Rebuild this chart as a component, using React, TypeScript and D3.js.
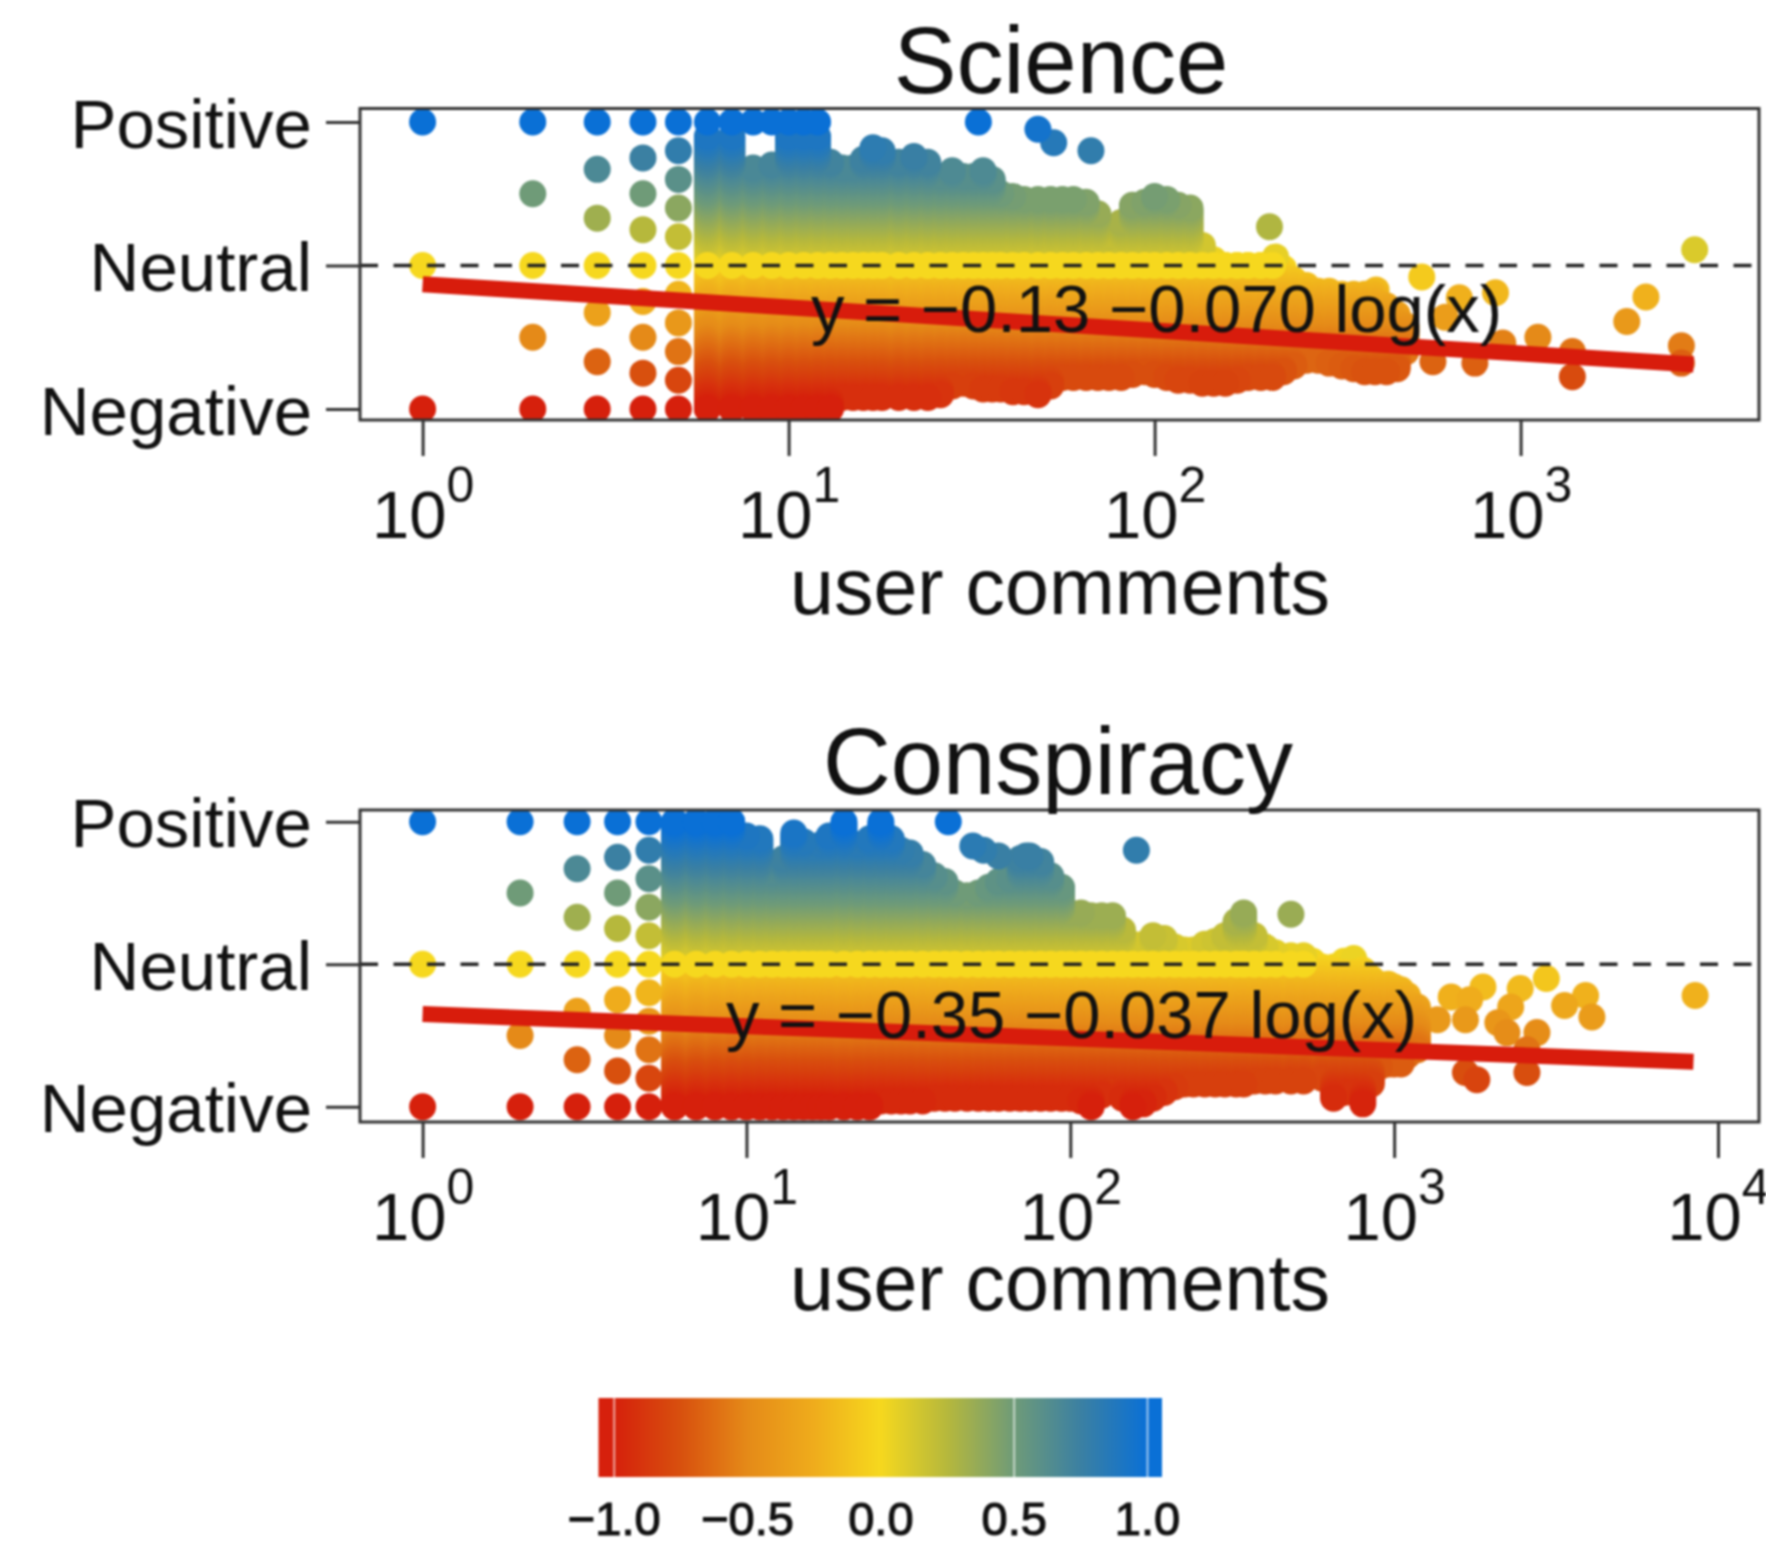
import React, { useEffect, useRef } from 'react';
import * as d3 from 'd3';

// sentiment levels seen at the low comment counts
const lowCounts = [1, 2, 3, 4, 5];
const lowCountLevels = [
  [-1, 0, 1],
  [-1, -0.5, 0, 0.5, 1],
  [-1, -0.67, -0.33, 0, 0.33, 0.67, 1],
  [-1, -0.75, -0.5, -0.25, 0, 0.25, 0.5, 0.75, 1],
  [-1, -0.8, -0.6, -0.4, -0.2, 0, 0.2, 0.4, 0.6, 0.8, 1],
];

const denseLevels = d3.range(-50, 51).map((i) => i / 50);

// Science: the dense part of the cloud, one column per comment count
const sciCounts = [6, 7, 8, 9, 10, 11, 12, 13, 14, 15, 16, 17, 18, 20, 22, 24, 26, 28, 30, 32, 34, 36, 38, 41, 44, 48, 52, 56, 60, 65, 70, 75, 81, 87, 94, 100, 108, 116, 125, 135, 145, 156, 168, 180, 195, 210, 225, 240, 260, 280, 300, 325, 350, 375, 400, 430, 460, 486];
const sciTop = [0.9, 0.9, 0.68, 0.7, 0.9, 0.9, 0.9, 0.72, 0.69, 0.69, 0.75, 0.82, 0.8, 0.72, 0.76, 0.72, 0.62, 0.66, 0.62, 0.62, 0.66, 0.6, 0.5, 0.48, 0.46, 0.46, 0.46, 0.46, 0.46, 0.44, 0.36, 0.2, 0.3, 0.42, 0.44, 0.49, 0.46, 0.42, 0.4, 0.14, 0.05, 0, 0, 0, 0, 0.02, -0.02, -0.1, -0.14, -0.17, -0.17, -0.2, -0.2, -0.2, -0.2, -0.28, -0.34, -0.42];
const sciBottom = [-1, -1, -1, -1, -1, -1, -1, -1, -0.93, -0.93, -0.93, -0.93, -0.93, -0.93, -0.93, -0.93, -0.9, -0.85, -0.83, -0.84, -0.87, -0.87, -0.87, -0.88, -0.89, -0.9, -0.85, -0.79, -0.79, -0.79, -0.79, -0.79, -0.78, -0.76, -0.75, -0.76, -0.78, -0.8, -0.81, -0.82, -0.82, -0.82, -0.8, -0.78, -0.78, -0.78, -0.74, -0.7, -0.66, -0.66, -0.68, -0.7, -0.72, -0.74, -0.75, -0.75, -0.72, -0.6];
const sciExtraCounts = [33, 48, 53, 67, 206, 214, 403, 537, 622, 680, 854, 576, 750, 894, 1115, 1385, 1385, 1950, 2200, 2750, 2750, 2990];
const sciExtraValues = [1, 0.95, 0.855, 0.8, 0.27, 0.06, -0.17, -0.08, -0.36, -0.225, -0.19, -0.67, -0.68, -0.54, -0.5, -0.6, -0.775, -0.39, -0.22, -0.56, -0.68, 0.11];

// Conspiracy
const conCounts = [6, 7, 8, 9, 10, 11, 12, 13, 14, 15, 16, 17, 18, 20, 22, 24, 26, 28, 30, 32, 35, 38, 41, 44, 48, 52, 56, 60, 65, 70, 75, 81, 87, 94, 100, 108, 116, 125, 135, 145, 156, 168, 180, 195, 210, 225, 240, 260, 280, 300, 325, 343, 370, 400, 430, 480, 525, 560, 600, 650, 700, 750, 800, 850, 900, 960, 1000, 1050, 1100, 1180];
const conTop = [1, 1, 1, 1, 0.9, 0.88, 0.64, 0.75, 0.92, 0.86, 0.83, 0.84, 0.9, 1, 0.85, 0.88, 1, 0.88, 0.8, 0.78, 0.7, 0.62, 0.58, 0.5, 0.48, 0.5, 0.55, 0.58, 0.6, 0.74, 0.76, 0.72, 0.62, 0.55, 0.37, 0.36, 0.34, 0.34, 0.34, 0.25, 0.15, 0.14, 0.2, 0.18, 0.12, 0.1, 0.1, 0.14, 0.17, 0.2, 0.3, 0.37, 0.2, 0.12, 0.08, 0.06, 0.06, 0.02, -0.02, -0.02, 0.03, 0.05, -0.04, -0.1, -0.13, -0.13, -0.15, -0.18, -0.22, -0.3];
const conBottom = [-1, -1, -1, -1, -1, -1, -1, -1, -1, -1, -1, -1, -1, -1, -1, -1, -0.97, -0.97, -0.97, -0.97, -0.97, -0.95, -0.94, -0.94, -0.94, -0.94, -0.94, -0.94, -0.94, -0.94, -0.94, -0.94, -0.94, -0.94, -0.94, -0.97, -1, -0.92, -0.88, -0.95, -1, -0.98, -0.94, -0.9, -0.86, -0.85, -0.85, -0.84, -0.84, -0.84, -0.84, -0.84, -0.83, -0.83, -0.83, -0.83, -0.83, -0.7, -0.8, -0.94, -0.9, -0.9, -0.98, -0.85, -0.72, -0.7, -0.7, -0.7, -0.65, -0.6];
const conExtraCounts = [42, 50, 54, 60, 73, 160, 480, 1360, 1500, 1660, 1660, 1710, 1800, 1880, 2090, 2230, 2290, 2450, 2570, 2570, 2760, 2950, 3360, 3900, 4080, 8500];
const conExtraValues = [1, 0.83, 0.8, 0.76, 0.76, 0.8, 0.35, -0.39, -0.23, -0.39, -0.76, -0.25, -0.81, -0.16, -0.41, -0.48, -0.3, -0.17, -0.76, -0.6, -0.48, -0.1, -0.29, -0.22, -0.37, -0.22];

// where the rows at +1 / 0 / -1 stop
const sciRowEnds = { positive: 12, neutral: 210, negative: 13 };
const conRowEnds = { positive: 9, neutral: 525, negative: 24 };

// log fits, [comment count, sentiment] at both ends
const sciFitCounts = [1, 2970];
const sciFitValues = [-0.13, -0.69];
const conFitCounts = [1, 8400];
const conFitValues = [-0.35, -0.684];

const sentimentStops = [-1, -0.75, -0.5, -0.25, 0, 0.25, 0.5, 0.75, 1];
const sentimentColors = ['#d6200c', '#d8500e', '#e58a18', '#efac1c', '#f6d81e', '#b6b83c', '#6f9b78', '#3b80a2', '#0a70d6'];
const yTicks = [-1, 0, 1];
const yTickLabels = ['Negative', 'Neutral', 'Positive'];
const legendTicks = [-1, -0.5, 0, 0.5, 1];
const legendWhiteTicks = [-1, 0.5, 1];

const color = d3.scaleLinear<string>().domain(sentimentStops).range(sentimentColors).clamp(true);
const FONT = '"Liberation Sans", Arial, sans-serif';
const INK = '#222';

type Dot = { count: number; level: number };

function cloudDots(counts: number[], top: number[], bottom: number[], ends: { positive: number; neutral: number; negative: number }, exCounts: number[], exValues: number[]) {
  const dots: Dot[] = [];
  lowCounts.forEach((c, i) => lowCountLevels[i].forEach((level) => dots.push({ count: c, level })));
  counts.forEach((c, i) => {
    denseLevels.filter((l) => l <= top[i] && l >= bottom[i]).forEach((level) => dots.push({ count: c, level }));
    if (c <= ends.positive) dots.push({ count: c, level: 1 });
    if (c <= ends.negative) dots.push({ count: c, level: -1 });
  });
  exCounts.forEach((c, i) => dots.push({ count: c, level: exValues[i] }));
  const sorted = dots.sort((a, b) => Math.abs(a.level) - Math.abs(b.level));
  // the neutral row sits on top of the bands either side of it
  const neutral = counts.filter((c) => c <= ends.neutral).map((c) => ({ count: c, level: 0 }));
  return [...sorted, ...neutral];
}

function drawPanel(svg: d3.Selection<SVGSVGElement, unknown, null, undefined>, p: any) {
  const { name, top, bottom, tickTop, tickBottom, xMax, xEnd, titleX, titleY, labelY, eqX, eqY, eq, dots, fitCounts, fitValues } = p;
  const left = 360;
  const right = 1759;
  const x = d3.scaleLog().domain([1, xMax]).range([422.6, xEnd]);
  const y = d3.scaleLinear().domain([-1, 1]).range([tickBottom, tickTop]);
  const clipId = 'clip-' + name;

  svg.append('clipPath').attr('id', clipId).append('rect')
    .attr('x', left).attr('y', top).attr('width', right - left).attr('height', bottom - top);

  svg.append('g').attr('clip-path', `url(#${clipId})`)
    .selectAll('circle').data(dots as Dot[]).join('circle')
    .attr('cx', (d) => x(d.count))
    .attr('cy', (d) => y(d.level))
    .attr('r', 13.5)
    .attr('fill', (d) => color(d.level));

  // dashed neutral line
  svg.append('line')
    .attr('x1', left).attr('x2', right).attr('y1', y(0)).attr('y2', y(0))
    .attr('stroke', INK).attr('stroke-width', 3.5).attr('stroke-dasharray', '18 15.5');

  // fit
  const fit = d3.line<number>().x((d) => x(d)).y((_, i) => y(fitValues[i]));
  svg.append('path').attr('d', fit(fitCounts))
    .attr('fill', 'none').attr('stroke', '#d81c0c').attr('stroke-width', 16);

  svg.append('rect')
    .attr('x', left).attr('y', top).attr('width', right - left).attr('height', bottom - top)
    .attr('fill', 'none').attr('stroke', '#333').attr('stroke-width', 3);

  // y axis
  const yAxis = svg.append('g').attr('transform', `translate(${left},0)`)
    .call(d3.axisLeft(y).tickValues(yTicks).tickSize(34).tickPadding(14).tickFormat((_, i) => yTickLabels[i]));
  yAxis.select('.domain').remove();
  yAxis.selectAll('line').attr('stroke', '#333').attr('stroke-width', 3);
  yAxis.selectAll('text').attr('font-family', FONT).attr('font-size', 69).attr('fill', '#111').attr('dy', 25);

  // x axis, labels are 10 with a raised exponent
  const decades = d3.range(0, Math.log10(xMax) + 1).map((e) => Math.pow(10, e));
  const xAxis = svg.append('g').attr('transform', `translate(0,${bottom})`)
    .call(d3.axisBottom(x).tickValues(decades).tickSize(36).tickFormat(() => ''));
  xAxis.select('.domain').remove();
  xAxis.selectAll('line').attr('stroke', '#333').attr('stroke-width', 3);
  xAxis.selectAll('text')
    .attr('y', 118).attr('dy', 0).attr('font-family', FONT).attr('font-size', 67).attr('fill', '#111')
    .each(function (d) {
      const t = d3.select(this);
      t.append('tspan').text('10');
      t.append('tspan').attr('font-size', 50).attr('dy', -36).text(String(Math.round(Math.log10(d as number))));
    });

  svg.append('text').attr('x', titleX).attr('y', titleY).attr('text-anchor', 'middle')
    .attr('font-family', FONT).attr('font-size', 94).attr('fill', '#111').text(name);
  svg.append('text').attr('x', 1060).attr('y', labelY).attr('text-anchor', 'middle')
    .attr('font-family', FONT).attr('font-size', 79).attr('fill', '#111').text('user comments');
  svg.append('text').attr('x', eqX).attr('y', eqY)
    .attr('font-family', FONT).attr('font-size', 67).attr('fill', '#111').text(eq);
}

export default function App() {
  const svgRef = useRef<SVGSVGElement | null>(null);

  useEffect(() => {
    const svg = d3.select(svgRef.current as SVGSVGElement);
    svg.selectAll('*').remove();

    drawPanel(svg, {
      name: 'Science', top: 108.5, bottom: 420, tickTop: 122, tickBottom: 409, xMax: 1000, xEnd: 1520.6,
      titleX: 1061, titleY: 93, labelY: 614, eqX: 811, eqY: 332, eq: 'y = −0.13 −0.070 log(x)',
      dots: cloudDots(sciCounts, sciTop, sciBottom, sciRowEnds, sciExtraCounts, sciExtraValues),
      fitCounts: sciFitCounts, fitValues: sciFitValues,
    });
    drawPanel(svg, {
      name: 'Conspiracy', top: 810, bottom: 1122, tickTop: 821.7, tickBottom: 1106.7, xMax: 10000, xEnd: 1718,
      titleX: 1058, titleY: 794, labelY: 1310, eqX: 726, eqY: 1038, eq: 'y = −0.35 −0.037 log(x)',
      dots: cloudDots(conCounts, conTop, conBottom, conRowEnds, conExtraCounts, conExtraValues),
      fitCounts: conFitCounts, fitValues: conFitValues,
    });

    // colour key
    const lx = d3.scaleLinear().domain([-1, 1]).range([613.7, 1147]);
    const barLeft = 598.5;
    const barRight = 1162;
    const grad = svg.append('linearGradient').attr('id', 'key').attr('gradientUnits', 'userSpaceOnUse')
      .attr('x1', lx(-1)).attr('x2', lx(1)).attr('y1', 0).attr('y2', 0);
    sentimentStops.forEach((s) => {
      grad.append('stop').attr('offset', (s + 1) / 2).attr('stop-color', color(s));
    });
    svg.append('rect').attr('x', barLeft).attr('y', 1398).attr('width', barRight - barLeft).attr('height', 79).attr('fill', 'url(#key)');
    const keyAxis = svg.append('g').attr('transform', 'translate(0,1477)')
      .call(d3.axisBottom(lx).tickValues(legendTicks).tickSize(-79).tickPadding(0).tickFormat((d) => d3.format('.1f')(d as number).replace('-', '−')));
    keyAxis.select('.domain').remove();
    keyAxis.selectAll('.tick line')
      .attr('stroke', (d) => (legendWhiteTicks.includes(d as number) ? '#fff' : 'none'))
      .attr('stroke-opacity', 0.6).attr('stroke-width', 2);
    keyAxis.selectAll('text')
      .attr('y', 58).attr('dy', 0).attr('font-family', FONT).attr('font-size', 47)
      .attr('fill', '#111').attr('stroke', '#111').attr('stroke-width', 1.2);
  }, []);

  // the source is a soft, low resolution scan
  return <svg ref={svgRef} width={1766} height={1547} style={{ position: 'absolute', left: 0, top: 0, background: '#fff', filter: 'blur(0.8px)' }} />;
}
